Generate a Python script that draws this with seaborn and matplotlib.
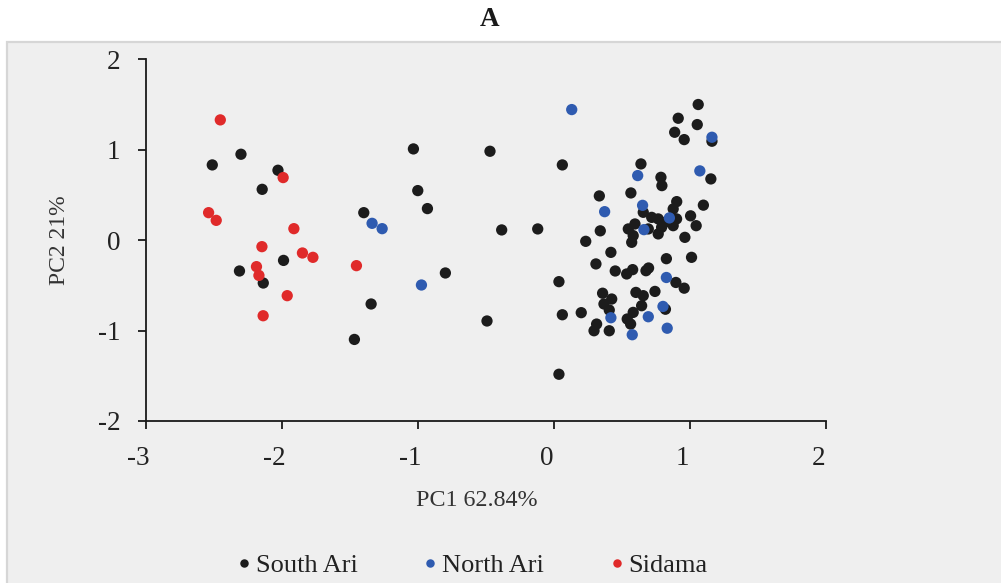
import numpy as np
import pandas as pd
import matplotlib
matplotlib.use("Agg")
import matplotlib.pyplot as plt
import matplotlib.transforms as mtransforms
import seaborn as sns
from matplotlib.patches import Rectangle

# ---------------- data ----------------
south_ari_x = [-2.509, -2.298, -2.026, -2.142, -2.309, -1.985, -2.134, -1.395, -1.030, -0.998,
               -0.927, -0.795, -1.341, -1.464, -0.489, -0.467, -0.381, -0.116, 0.065, 0.040,
               0.065, 0.040, 0.204, 1.064, 0.917, 1.057, 0.891, 0.961, 1.165, 0.643,
               0.790, 0.797, 1.157, 0.337, 0.569, 0.906, 1.102, 1.008, 1.049, 0.966,
               0.880, 0.660, 0.722, 0.770, 0.819, 0.905, 0.880, 0.795, 0.770, 0.599,
               0.550, 0.586, 0.575, 0.697, 0.344, 0.237, 0.422, 0.312, 0.454, 0.538,
               0.582, 0.680, 0.699, 0.830, 1.015, 0.900, 0.961, 0.361, 0.428, 0.371,
               0.410, 0.606, 0.660, 0.746, 0.648, 0.586, 0.542, 0.567, 0.823, 0.317,
               0.298, 0.410]
south_ari_y = [0.832, 0.950, 0.773, 0.562, -0.341, -0.224, -0.474, 0.304, 1.009, 0.548,
               0.349, -0.363, -0.706, -1.098, -0.894, 0.983, 0.113, 0.124, 0.832, -0.459,
               -0.825, -1.483, -0.802, 1.500, 1.348, 1.278, 1.193, 1.112, 1.094, 0.843,
               0.695, 0.603, 0.677, 0.489, 0.522, 0.426, 0.387, 0.269, 0.160, 0.031,
               0.345, 0.308, 0.252, 0.235, 0.197, 0.235, 0.160, 0.142, 0.069, 0.179,
               0.124, 0.050, -0.024, 0.124, 0.103, -0.013, -0.135, -0.263, -0.341, -0.374,
               -0.326, -0.338, -0.308, -0.205, -0.190, -0.468, -0.531, -0.587, -0.651, -0.706,
               -0.773, -0.578, -0.614, -0.567, -0.725, -0.799, -0.872, -0.928, -0.764, -0.928,
               -1.002, -1.002]

north_ari_x = [-1.334, -1.260, -0.971, 0.134, 1.165, 1.076, 0.619, 0.376, 0.655, 0.852,
               0.665, 0.830, 0.805, 0.422, 0.697, 0.836, 0.579]
north_ari_y = [0.186, 0.127, -0.496, 1.444, 1.138, 0.766, 0.714, 0.315, 0.385, 0.246,
               0.116, -0.413, -0.733, -0.858, -0.847, -0.974, -1.046]

sidama_x = [-2.450, -2.536, -2.480, -1.988, -1.909, -2.144, -1.846, -1.769, -2.184, -2.166,
            -1.958, -2.135, -1.449]
sidama_y = [1.330, 0.304, 0.219, 0.692, 0.127, -0.072, -0.142, -0.190, -0.293, -0.390,
            -0.614, -0.836, -0.282]

groups = ["South Ari", "North Ari", "Sidama"]
colors = ["#1c1c1c", "#2f5bb0", "#e02a2a"]
x_ticks = [-3, -2, -1, 0, 1, 2]
y_ticks = [-2, -1, 0, 1, 2]
title = "A"
x_label = "PC1 62.84%"
y_label = "PC2 21%"

df = pd.DataFrame({
    "PC1": south_ari_x + north_ari_x + sidama_x,
    "PC2": south_ari_y + north_ari_y + sidama_y,
    "group": [groups[0]] * len(south_ari_x) + [groups[1]] * len(north_ari_x) + [groups[2]] * len(sidama_x),
})

# ---------------- styling ----------------
sns.set_theme(style="white")
plt.rcParams["font.family"] = ["Liberation Serif", "DejaVu Serif"]
plt.rcParams["axes.unicode_minus"] = False

bg = "#efefef"
fig = plt.figure(figsize=(10.01, 5.83), dpi=100)
fig.patch.set_facecolor("white")
# grey chart-area panel
panel = Rectangle((7 / 1001, -0.01), 1.0, (583 - 42) / 583 + 0.01, transform=fig.transFigure,
                  facecolor=bg, edgecolor="#d6d6d6", linewidth=1.6, zorder=-10)
fig.patches.append(panel)

ax = fig.add_axes([145.5 / 1001, (583 - 421) / 583, (825.5 - 145.5) / 1001, (421 - 59.3) / 583])
ax.set_zorder(5)
ax.patch.set_alpha(0)

sns.scatterplot(data=df, x="PC1", y="PC2", hue="group", hue_order=groups,
                palette=colors, s=66, linewidth=0, ax=ax, zorder=3)

ax.set_xlim(-3, 2)
ax.set_ylim(-2, 2)
ax.set_xticks(x_ticks)
ax.set_yticks(y_ticks)
ax.set_xticklabels([str(v) for v in x_ticks])
ax.set_yticklabels([str(v) for v in y_ticks])

for s in ["top", "right"]:
    ax.spines[s].set_visible(False)
for s in ["left", "bottom"]:
    ax.spines[s].set_color("#1a1a1a")
    ax.spines[s].set_linewidth(1.3)

ax.tick_params(axis="both", which="major", direction="out", length=6, width=1.3,
               color="#1a1a1a", labelsize=19.5, labelcolor="#222222", pad=12,
               left=True, bottom=True)

# x tick labels sit slightly left of their ticks in the reference
shift = mtransforms.ScaledTranslation(-7 / 100, 0, fig.dpi_scale_trans)
for lbl in ax.get_xticklabels():
    lbl.set_transform(lbl.get_transform() + shift)

ax.set_xlabel(x_label, fontsize=17.3, color="#333333", labelpad=12)
ax.xaxis.set_label_coords((477 - 145.5) / (825.5 - 145.5), -0.19)
ax.set_ylabel(y_label, fontsize=17, color="#333333", labelpad=20)

fig.text(490 / 1001, 1 - 19 / 583, title, ha="center", va="center",
         fontsize=19.5, fontweight="bold", color="#1a1a1a")

handles, labels = ax.get_legend_handles_labels()
if ax.get_legend() is not None:
    ax.get_legend().remove()
leg = fig.legend(handles, labels, loc="center", bbox_to_anchor=(470 / 1001, 18 / 583),
                 ncol=3, frameon=False, fontsize=19, handletextpad=0.0, columnspacing=2.3,
                 markerscale=0.75, labelcolor="#222222", handlelength=0.9)
leg.set_zorder(6)

fig.savefig("out.png", dpi=100, facecolor="white")
